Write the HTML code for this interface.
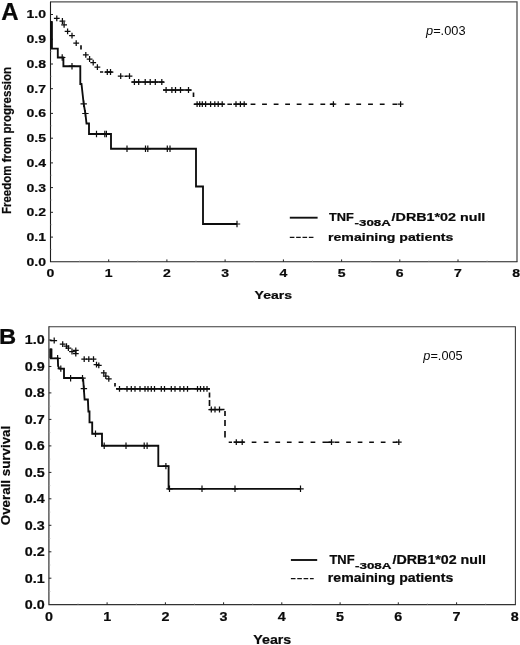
<!DOCTYPE html>
<html><head><meta charset="utf-8"><title>Figure</title>
<style>
html,body{margin:0;padding:0;background:#fff;}
body{width:520px;height:645px;overflow:hidden;}
svg{display:block;filter:grayscale(1) blur(0.35px);}
text{font-family:"Liberation Sans",Arial,Helvetica,sans-serif;fill:#0a0a0a;}
.b{font-weight:bold;stroke:#0a0a0a;stroke-width:0.22px;}
.i{font-style:italic;}
</style></head><body>
<svg width="520" height="645" viewBox="0 0 520 645">
<rect width="520" height="645" fill="#fff"/>

<path d="M50.5 1.95H517.0V261.8" stroke="#505050" stroke-width="1.3" fill="none"/>
<path d="M50.5 1.45V261.8H517.5" stroke="#1e1e1e" stroke-width="1.1" fill="none"/>
<text class="b" transform="translate(46.00 265.70) scale(1.190 1)" font-size="11.8" text-anchor="end">0.0</text>
<path d="M50.5 237.1h2.5" stroke="#222" stroke-width="1"/>
<text class="b" transform="translate(46.00 240.97) scale(1.190 1)" font-size="11.8" text-anchor="end">0.1</text>
<path d="M50.5 212.3h2.5" stroke="#222" stroke-width="1"/>
<text class="b" transform="translate(46.00 216.24) scale(1.190 1)" font-size="11.8" text-anchor="end">0.2</text>
<path d="M50.5 187.6h2.5" stroke="#222" stroke-width="1"/>
<text class="b" transform="translate(46.00 191.51) scale(1.190 1)" font-size="11.8" text-anchor="end">0.3</text>
<path d="M50.5 162.9h2.5" stroke="#222" stroke-width="1"/>
<text class="b" transform="translate(46.00 166.78) scale(1.190 1)" font-size="11.8" text-anchor="end">0.4</text>
<path d="M50.5 138.2h2.5" stroke="#222" stroke-width="1"/>
<text class="b" transform="translate(46.00 142.05) scale(1.190 1)" font-size="11.8" text-anchor="end">0.5</text>
<path d="M50.5 113.4h2.5" stroke="#222" stroke-width="1"/>
<text class="b" transform="translate(46.00 117.32) scale(1.190 1)" font-size="11.8" text-anchor="end">0.6</text>
<path d="M50.5 88.7h2.5" stroke="#222" stroke-width="1"/>
<text class="b" transform="translate(46.00 92.59) scale(1.190 1)" font-size="11.8" text-anchor="end">0.7</text>
<path d="M50.5 64.0h2.5" stroke="#222" stroke-width="1"/>
<text class="b" transform="translate(46.00 67.86) scale(1.190 1)" font-size="11.8" text-anchor="end">0.8</text>
<path d="M50.5 39.2h2.5" stroke="#222" stroke-width="1"/>
<text class="b" transform="translate(46.00 43.13) scale(1.190 1)" font-size="11.8" text-anchor="end">0.9</text>
<path d="M50.5 14.5h2.5" stroke="#222" stroke-width="1"/>
<text class="b" transform="translate(46.00 18.40) scale(1.190 1)" font-size="11.8" text-anchor="end">1.0</text>
<path d="M50.5 249.4h1.6" stroke="#aaa" stroke-width="0.6"/>
<path d="M50.5 224.7h1.6" stroke="#aaa" stroke-width="0.6"/>
<path d="M50.5 200.0h1.6" stroke="#aaa" stroke-width="0.6"/>
<path d="M50.5 175.2h1.6" stroke="#aaa" stroke-width="0.6"/>
<path d="M50.5 150.5h1.6" stroke="#aaa" stroke-width="0.6"/>
<path d="M50.5 125.8h1.6" stroke="#aaa" stroke-width="0.6"/>
<path d="M50.5 101.1h1.6" stroke="#aaa" stroke-width="0.6"/>
<path d="M50.5 76.3h1.6" stroke="#aaa" stroke-width="0.6"/>
<path d="M50.5 51.6h1.6" stroke="#aaa" stroke-width="0.6"/>
<path d="M50.5 26.9h1.6" stroke="#aaa" stroke-width="0.6"/>
<text class="b" transform="translate(50.50 276.50) scale(1.190 1)" font-size="11.8" text-anchor="middle">0</text>
<path d="M108.7 261.8v-2.4" stroke="#222" stroke-width="1"/>
<text class="b" transform="translate(108.71 276.50) scale(1.190 1)" font-size="11.8" text-anchor="middle">1</text>
<path d="M166.9 261.8v-2.4" stroke="#222" stroke-width="1"/>
<text class="b" transform="translate(166.93 276.50) scale(1.190 1)" font-size="11.8" text-anchor="middle">2</text>
<path d="M225.1 261.8v-2.4" stroke="#222" stroke-width="1"/>
<text class="b" transform="translate(225.14 276.50) scale(1.190 1)" font-size="11.8" text-anchor="middle">3</text>
<path d="M283.4 261.8v-2.4" stroke="#222" stroke-width="1"/>
<text class="b" transform="translate(283.35 276.50) scale(1.190 1)" font-size="11.8" text-anchor="middle">4</text>
<path d="M341.6 261.8v-2.4" stroke="#222" stroke-width="1"/>
<text class="b" transform="translate(341.56 276.50) scale(1.190 1)" font-size="11.8" text-anchor="middle">5</text>
<path d="M399.8 261.8v-2.4" stroke="#222" stroke-width="1"/>
<text class="b" transform="translate(399.78 276.50) scale(1.190 1)" font-size="11.8" text-anchor="middle">6</text>
<path d="M458.0 261.8v-2.4" stroke="#222" stroke-width="1"/>
<text class="b" transform="translate(457.99 276.50) scale(1.190 1)" font-size="11.8" text-anchor="middle">7</text>
<text class="b" transform="translate(516.20 276.50) scale(1.190 1)" font-size="11.8" text-anchor="middle">8</text>
<path d="M79.6 261.8v-1.4" stroke="#aaa" stroke-width="0.6"/>
<path d="M137.8 261.8v-1.4" stroke="#aaa" stroke-width="0.6"/>
<path d="M196.0 261.8v-1.4" stroke="#aaa" stroke-width="0.6"/>
<path d="M254.2 261.8v-1.4" stroke="#aaa" stroke-width="0.6"/>
<path d="M312.5 261.8v-1.4" stroke="#aaa" stroke-width="0.6"/>
<path d="M370.7 261.8v-1.4" stroke="#aaa" stroke-width="0.6"/>
<path d="M428.9 261.8v-1.4" stroke="#aaa" stroke-width="0.6"/>
<path d="M487.1 261.8v-1.4" stroke="#aaa" stroke-width="0.6"/>
<text class="b" transform="translate(254.60 298.50) scale(1.190 1)" font-size="11.8" text-anchor="start">Years</text>
<text class="b" transform="translate(10.50 140.50) rotate(-90) scale(0.944 1)" font-size="12.2" text-anchor="middle">Freedom from progression</text>
<text class="b" transform="translate(1.20 19.70)" font-size="24" text-anchor="start">A</text>
<text class="" transform="translate(426.00 35.40) scale(1.070 1)" font-size="12" text-anchor="start"><tspan class="i">p</tspan>=.003</text>
<path d="M289.8 217.7H317.6" stroke="#111" stroke-width="1.9"/>
<text class="b" transform="translate(328.90 220.90) scale(1.100 1)" font-size="11.6" text-anchor="start">TNF</text>
<text class="b" transform="translate(354.60 226.00) scale(1.585 1)" font-size="8.4" text-anchor="start">-308A</text>
<text class="b" transform="translate(391.60 220.90) scale(1.233 1)" font-size="11.6" text-anchor="start">/DRB1*02 null</text>
<path d="M289.8 237.3H313.6" stroke="#111" stroke-width="1.3" stroke-dasharray="4.6 1.75"/>
<text class="b" transform="translate(328.00 240.60) scale(1.218 1)" font-size="11.6" text-anchor="start">remaining patients</text>
<path d="M81 45.3L81 49.6M100 72L103.2 72M105 72L112.5 72M124.5 76.2L127 76.2M131.5 82L164 82M163 90L191.5 90M193.5 92.4L193.5 96.9M193.7 104.2L224.5 104.2M227.4 104.2L232 104.2M234 104.2L247 104.2" stroke="#0d0d0d" stroke-width="1.65" fill="none"/>
<path d="M250.6 104.2L255.4 104.2M262.1 104.2L266.90000000000003 104.2M273.7 104.2L278.5 104.2M285.2 104.2L290.0 104.2M296.7 104.2L301.5 104.2M308.6 104.2L313.40000000000003 104.2M320.4 104.2L325.2 104.2M329.8 104.2L334.6 104.2M344.9 104.2L349.7 104.2M356.3 104.2L361.1 104.2M368.1 104.2L372.90000000000003 104.2M379.8 104.2L384.6 104.2M392.5 104.2L397.3 104.2" stroke="#0d0d0d" stroke-width="1.65" fill="none"/>
<path d="M53.9 18.3H59.7M56.8 15.4V21.2" stroke="#0d0d0d" stroke-width="1.25" fill="none"/>
<path d="M59.5 21.0H65.3M62.4 18.1V23.9" stroke="#0d0d0d" stroke-width="1.25" fill="none"/>
<path d="M61.2 24.8H67.0M64.1 21.9V27.7" stroke="#0d0d0d" stroke-width="1.25" fill="none"/>
<path d="M64.7 31.3H70.5M67.6 28.4V34.2" stroke="#0d0d0d" stroke-width="1.25" fill="none"/>
<path d="M69.1 35.7H74.9M72.0 32.8V38.6" stroke="#0d0d0d" stroke-width="1.25" fill="none"/>
<path d="M73.3 43.2H79.1M76.2 40.3V46.1" stroke="#0d0d0d" stroke-width="1.25" fill="none"/>
<path d="M82.9 54.9H88.7M85.8 52.0V57.8" stroke="#0d0d0d" stroke-width="1.25" fill="none"/>
<path d="M86.7 59.0H92.5M89.6 56.1V61.9" stroke="#0d0d0d" stroke-width="1.25" fill="none"/>
<path d="M90.3 62.6H96.1M93.2 59.7V65.5" stroke="#0d0d0d" stroke-width="1.25" fill="none"/>
<path d="M94.5 67.2H100.3M97.4 64.3V70.1" stroke="#0d0d0d" stroke-width="1.25" fill="none"/>
<path d="M104.4 72.0H110.2M107.3 69.1V74.9" stroke="#0d0d0d" stroke-width="1.25" fill="none"/>
<path d="M107.6 72.0H113.4M110.5 69.1V74.9" stroke="#0d0d0d" stroke-width="1.25" fill="none"/>
<path d="M117.8 76.2H123.6M120.7 73.3V79.1" stroke="#0d0d0d" stroke-width="1.25" fill="none"/>
<path d="M126.6 76.2H132.4M129.5 73.3V79.1" stroke="#0d0d0d" stroke-width="1.25" fill="none"/>
<path d="M131.5 82.0H137.3M134.4 79.1V84.9" stroke="#0d0d0d" stroke-width="1.25" fill="none"/>
<path d="M135.8 82.0H141.6M138.7 79.1V84.9" stroke="#0d0d0d" stroke-width="1.25" fill="none"/>
<path d="M142.3 82.0H148.1M145.2 79.1V84.9" stroke="#0d0d0d" stroke-width="1.25" fill="none"/>
<path d="M147.3 82.0H153.1M150.2 79.1V84.9" stroke="#0d0d0d" stroke-width="1.25" fill="none"/>
<path d="M152.4 82.0H158.2M155.3 79.1V84.9" stroke="#0d0d0d" stroke-width="1.25" fill="none"/>
<path d="M158.9 82.0H164.7M161.8 79.1V84.9" stroke="#0d0d0d" stroke-width="1.25" fill="none"/>
<path d="M163.2 90.0H169.0M166.1 87.1V92.9" stroke="#0d0d0d" stroke-width="1.25" fill="none"/>
<path d="M169.0 90.0H174.8M171.9 87.1V92.9" stroke="#0d0d0d" stroke-width="1.25" fill="none"/>
<path d="M172.6 90.0H178.4M175.5 87.1V92.9" stroke="#0d0d0d" stroke-width="1.25" fill="none"/>
<path d="M177.6 90.0H183.4M180.5 87.1V92.9" stroke="#0d0d0d" stroke-width="1.25" fill="none"/>
<path d="M185.6 90.0H191.4M188.5 87.1V92.9" stroke="#0d0d0d" stroke-width="1.25" fill="none"/>
<path d="M194.2 104.2H200.0M197.1 101.3V107.1" stroke="#0d0d0d" stroke-width="1.25" fill="none"/>
<path d="M196.8 104.2H202.6M199.7 101.3V107.1" stroke="#0d0d0d" stroke-width="1.25" fill="none"/>
<path d="M199.4 104.2H205.2M202.3 101.3V107.1" stroke="#0d0d0d" stroke-width="1.25" fill="none"/>
<path d="M202.7 104.2H208.5M205.6 101.3V107.1" stroke="#0d0d0d" stroke-width="1.25" fill="none"/>
<path d="M207.7 104.2H213.5M210.6 101.3V107.1" stroke="#0d0d0d" stroke-width="1.25" fill="none"/>
<path d="M211.9 104.2H217.7M214.8 101.3V107.1" stroke="#0d0d0d" stroke-width="1.25" fill="none"/>
<path d="M215.3 104.2H221.1M218.2 101.3V107.1" stroke="#0d0d0d" stroke-width="1.25" fill="none"/>
<path d="M219.3 104.2H225.1M222.2 101.3V107.1" stroke="#0d0d0d" stroke-width="1.25" fill="none"/>
<path d="M233.1 104.2H238.9M236.0 101.3V107.1" stroke="#0d0d0d" stroke-width="1.25" fill="none"/>
<path d="M237.5 104.2H243.3M240.4 101.3V107.1" stroke="#0d0d0d" stroke-width="1.25" fill="none"/>
<path d="M241.3 104.2H247.1M244.2 101.3V107.1" stroke="#0d0d0d" stroke-width="1.25" fill="none"/>
<path d="M330.5 104.2H336.3M333.4 101.3V107.1" stroke="#0d0d0d" stroke-width="1.25" fill="none"/>
<path d="M397.7 104.2H403.5M400.6 101.3V107.1" stroke="#0d0d0d" stroke-width="1.25" fill="none"/>
<path d="M51.4 21L51.4 48.6" stroke="#0d0d0d" stroke-width="2.6" fill="none"/>
<path d="M51.6 22 L51.6 48.6 L57.8 48.6 L57.8 57.5 L63.4 57.5 L63.4 66.2 L80.3 66.2 L80.3 84 L81.5 84 L82.6 94 L83.7 103.8 L85.4 113.5 L86.5 123.5 L89 123.5 L89 134 L111 134 L111 148.7 L196 148.7 L196 186.5 L203 186.5 L203 224 L237 224" stroke="#0d0d0d" stroke-width="1.85" fill="none"/>
<path d="M59.0 57.5H65.4M62.2 54.3V60.7" stroke="#0d0d0d" stroke-width="1.2" fill="none"/>
<path d="M68.8 66.2H75.2M72.0 63.0V69.4" stroke="#0d0d0d" stroke-width="1.2" fill="none"/>
<path d="M80.5 103.8H86.9M83.7 100.6V107.0" stroke="#0d0d0d" stroke-width="1.2" fill="none"/>
<path d="M82.2 113.5H88.6M85.4 110.3V116.7" stroke="#0d0d0d" stroke-width="1.2" fill="none"/>
<path d="M93.3 134.0H99.7M96.5 130.8V137.2" stroke="#0d0d0d" stroke-width="1.2" fill="none"/>
<path d="M101.6 134.0H108.0M104.8 130.8V137.2" stroke="#0d0d0d" stroke-width="1.2" fill="none"/>
<path d="M103.2 134.0H109.6M106.4 130.8V137.2" stroke="#0d0d0d" stroke-width="1.2" fill="none"/>
<path d="M123.8 148.7H130.2M127.0 145.5V151.9" stroke="#0d0d0d" stroke-width="1.2" fill="none"/>
<path d="M142.3 148.7H148.7M145.5 145.5V151.9" stroke="#0d0d0d" stroke-width="1.2" fill="none"/>
<path d="M144.6 148.7H151.0M147.8 145.5V151.9" stroke="#0d0d0d" stroke-width="1.2" fill="none"/>
<path d="M164.1 148.7H170.5M167.3 145.5V151.9" stroke="#0d0d0d" stroke-width="1.2" fill="none"/>
<path d="M166.8 148.7H173.2M170.0 145.5V151.9" stroke="#0d0d0d" stroke-width="1.2" fill="none"/>
<path d="M233.8 224.0H240.2M237.0 220.8V227.2" stroke="#0d0d0d" stroke-width="1.2" fill="none"/>
<path d="M48.9 326.8H515.4V604.7" stroke="#3a3a3a" stroke-width="1.1" fill="none"/>
<path d="M48.9 326.3V604.7H515.9" stroke="#333" stroke-width="1.2" fill="none"/>
<text class="b" transform="translate(44.80 609.10) scale(1.120 1)" font-size="12.8" text-anchor="end">0.0</text>
<path d="M48.9 578.2h2.5" stroke="#222" stroke-width="1"/>
<text class="b" transform="translate(44.80 582.63) scale(1.120 1)" font-size="12.8" text-anchor="end">0.1</text>
<path d="M48.9 551.8h2.5" stroke="#222" stroke-width="1"/>
<text class="b" transform="translate(44.80 556.16) scale(1.120 1)" font-size="12.8" text-anchor="end">0.2</text>
<path d="M48.9 525.3h2.5" stroke="#222" stroke-width="1"/>
<text class="b" transform="translate(44.80 529.69) scale(1.120 1)" font-size="12.8" text-anchor="end">0.3</text>
<path d="M48.9 498.8h2.5" stroke="#222" stroke-width="1"/>
<text class="b" transform="translate(44.80 503.22) scale(1.120 1)" font-size="12.8" text-anchor="end">0.4</text>
<path d="M48.9 472.4h2.5" stroke="#222" stroke-width="1"/>
<text class="b" transform="translate(44.80 476.75) scale(1.120 1)" font-size="12.8" text-anchor="end">0.5</text>
<path d="M48.9 445.9h2.5" stroke="#222" stroke-width="1"/>
<text class="b" transform="translate(44.80 450.28) scale(1.120 1)" font-size="12.8" text-anchor="end">0.6</text>
<path d="M48.9 419.4h2.5" stroke="#222" stroke-width="1"/>
<text class="b" transform="translate(44.80 423.81) scale(1.120 1)" font-size="12.8" text-anchor="end">0.7</text>
<path d="M48.9 392.9h2.5" stroke="#222" stroke-width="1"/>
<text class="b" transform="translate(44.80 397.34) scale(1.120 1)" font-size="12.8" text-anchor="end">0.8</text>
<path d="M48.9 366.5h2.5" stroke="#222" stroke-width="1"/>
<text class="b" transform="translate(44.80 370.87) scale(1.120 1)" font-size="12.8" text-anchor="end">0.9</text>
<path d="M48.9 340.0h2.5" stroke="#222" stroke-width="1"/>
<text class="b" transform="translate(44.80 344.40) scale(1.120 1)" font-size="12.8" text-anchor="end">1.0</text>
<path d="M48.9 591.5h1.6" stroke="#aaa" stroke-width="0.6"/>
<path d="M48.9 565.0h1.6" stroke="#aaa" stroke-width="0.6"/>
<path d="M48.9 538.5h1.6" stroke="#aaa" stroke-width="0.6"/>
<path d="M48.9 512.1h1.6" stroke="#aaa" stroke-width="0.6"/>
<path d="M48.9 485.6h1.6" stroke="#aaa" stroke-width="0.6"/>
<path d="M48.9 459.1h1.6" stroke="#aaa" stroke-width="0.6"/>
<path d="M48.9 432.6h1.6" stroke="#aaa" stroke-width="0.6"/>
<path d="M48.9 406.2h1.6" stroke="#aaa" stroke-width="0.6"/>
<path d="M48.9 379.7h1.6" stroke="#aaa" stroke-width="0.6"/>
<path d="M48.9 353.2h1.6" stroke="#aaa" stroke-width="0.6"/>
<text class="b" transform="translate(48.90 621.30) scale(1.120 1)" font-size="12.8" text-anchor="middle">0</text>
<path d="M107.1 604.7v-2.4" stroke="#222" stroke-width="1"/>
<text class="b" transform="translate(107.14 621.30) scale(1.120 1)" font-size="12.8" text-anchor="middle">1</text>
<path d="M165.4 604.7v-2.4" stroke="#222" stroke-width="1"/>
<text class="b" transform="translate(165.38 621.30) scale(1.120 1)" font-size="12.8" text-anchor="middle">2</text>
<path d="M223.6 604.7v-2.4" stroke="#222" stroke-width="1"/>
<text class="b" transform="translate(223.61 621.30) scale(1.120 1)" font-size="12.8" text-anchor="middle">3</text>
<path d="M281.8 604.7v-2.4" stroke="#222" stroke-width="1"/>
<text class="b" transform="translate(281.85 621.30) scale(1.120 1)" font-size="12.8" text-anchor="middle">4</text>
<path d="M340.1 604.7v-2.4" stroke="#222" stroke-width="1"/>
<text class="b" transform="translate(340.09 621.30) scale(1.120 1)" font-size="12.8" text-anchor="middle">5</text>
<path d="M398.3 604.7v-2.4" stroke="#222" stroke-width="1"/>
<text class="b" transform="translate(398.32 621.30) scale(1.120 1)" font-size="12.8" text-anchor="middle">6</text>
<path d="M456.6 604.7v-2.4" stroke="#222" stroke-width="1"/>
<text class="b" transform="translate(456.56 621.30) scale(1.120 1)" font-size="12.8" text-anchor="middle">7</text>
<text class="b" transform="translate(514.80 621.30) scale(1.120 1)" font-size="12.8" text-anchor="middle">8</text>
<path d="M78.0 604.7v-1.4" stroke="#aaa" stroke-width="0.6"/>
<path d="M136.3 604.7v-1.4" stroke="#aaa" stroke-width="0.6"/>
<path d="M194.5 604.7v-1.4" stroke="#aaa" stroke-width="0.6"/>
<path d="M252.7 604.7v-1.4" stroke="#aaa" stroke-width="0.6"/>
<path d="M311.0 604.7v-1.4" stroke="#aaa" stroke-width="0.6"/>
<path d="M369.2 604.7v-1.4" stroke="#aaa" stroke-width="0.6"/>
<path d="M427.4 604.7v-1.4" stroke="#aaa" stroke-width="0.6"/>
<path d="M485.7 604.7v-1.4" stroke="#aaa" stroke-width="0.6"/>
<text class="b" transform="translate(253.30 643.80) scale(1.130 1)" font-size="12.6" text-anchor="start">Years</text>
<text class="b" transform="translate(10.20 475.50) rotate(-90) scale(1.086 1)" font-size="12.3" text-anchor="middle">Overall survival</text>
<text class="b" transform="translate(-1.00 343.80) scale(1.080 1)" font-size="22" text-anchor="start">B</text>
<text class="" transform="translate(423.30 360.20) scale(1.030 1)" font-size="12.4" text-anchor="start"><tspan class="i">p</tspan>=.005</text>
<path d="M290.9 560H317.2" stroke="#111" stroke-width="1.9"/>
<text class="b" transform="translate(329.40 563.50) scale(1.080 1)" font-size="12" text-anchor="start">TNF</text>
<text class="b" transform="translate(355.00 568.90) scale(1.560 1)" font-size="8.6" text-anchor="start">-308A</text>
<text class="b" transform="translate(392.60 563.50) scale(1.187 1)" font-size="12" text-anchor="start">/DRB1*02 null</text>
<path d="M290.9 578.7H313.7" stroke="#111" stroke-width="1.3" stroke-dasharray="4.6 1.75"/>
<text class="b" transform="translate(327.80 581.60) scale(1.177 1)" font-size="12" text-anchor="start">remaining patients</text>
<path d="M50 340.5L52.5 340.5M115 383L115 386.6M116 388.8L210 388.8M209.5 392.5L209.5 397.5M209.5 400L209.5 406M209.5 409.5L224.5 409.5M225 411L225 416M225 420L225 426M225 431L225 437.5M228.7 442.2L232 442.2M234 442.2L244.5 442.2" stroke="#0d0d0d" stroke-width="1.65" fill="none"/>
<path d="M251.7 442.2L256.4 442.2M263.8 442.2L268.5 442.2M275.4 442.2L280.09999999999997 442.2M286.9 442.2L291.59999999999997 442.2M298.6 442.2L303.3 442.2M310.6 442.2L315.3 442.2M322.5 442.2L327.2 442.2M327 442.2L331.7 442.2M334.6 442.2L339.3 442.2M346.2 442.2L350.9 442.2M357.7 442.2L362.4 442.2M369.2 442.2L373.9 442.2M380.8 442.2L385.5 442.2M392.6 442.2L397.3 442.2" stroke="#0d0d0d" stroke-width="1.65" fill="none"/>
<path d="M51.3 340.5H57.1M54.2 337.6V343.4" stroke="#0d0d0d" stroke-width="1.25" fill="none"/>
<path d="M59.8 344.2H65.6M62.7 341.3V347.1" stroke="#0d0d0d" stroke-width="1.25" fill="none"/>
<path d="M63.6 346.2H69.4M66.5 343.3V349.1" stroke="#0d0d0d" stroke-width="1.25" fill="none"/>
<path d="M65.5 348.2H71.3M68.4 345.3V351.1" stroke="#0d0d0d" stroke-width="1.25" fill="none"/>
<path d="M69.1 351.5H74.9M72.0 348.6V354.4" stroke="#0d0d0d" stroke-width="1.25" fill="none"/>
<path d="M72.9 350.3H78.7M75.8 347.4V353.2" stroke="#0d0d0d" stroke-width="1.25" fill="none"/>
<path d="M72.9 353.6H78.7M75.8 350.7V356.5" stroke="#0d0d0d" stroke-width="1.25" fill="none"/>
<path d="M81.3 359.2H87.1M84.2 356.3V362.1" stroke="#0d0d0d" stroke-width="1.25" fill="none"/>
<path d="M85.9 359.2H91.7M88.8 356.3V362.1" stroke="#0d0d0d" stroke-width="1.25" fill="none"/>
<path d="M90.6 359.2H96.4M93.5 356.3V362.1" stroke="#0d0d0d" stroke-width="1.25" fill="none"/>
<path d="M93.6 364.6H99.4M96.5 361.7V367.5" stroke="#0d0d0d" stroke-width="1.25" fill="none"/>
<path d="M95.9 365.4H101.7M98.8 362.5V368.3" stroke="#0d0d0d" stroke-width="1.25" fill="none"/>
<path d="M100.9 372.8H106.7M103.8 369.9V375.7" stroke="#0d0d0d" stroke-width="1.25" fill="none"/>
<path d="M102.9 376.2H108.7M105.8 373.3V379.1" stroke="#0d0d0d" stroke-width="1.25" fill="none"/>
<path d="M105.9 378.9H111.7M108.8 376.0V381.8" stroke="#0d0d0d" stroke-width="1.25" fill="none"/>
<path d="M116.6 388.8H122.4M119.5 385.9V391.7" stroke="#0d0d0d" stroke-width="1.25" fill="none"/>
<path d="M124.1 388.8H129.9M127.0 385.9V391.7" stroke="#0d0d0d" stroke-width="1.25" fill="none"/>
<path d="M128.4 388.8H134.2M131.3 385.9V391.7" stroke="#0d0d0d" stroke-width="1.25" fill="none"/>
<path d="M132.1 388.8H137.9M135.0 385.9V391.7" stroke="#0d0d0d" stroke-width="1.25" fill="none"/>
<path d="M137.1 388.8H142.9M140.0 385.9V391.7" stroke="#0d0d0d" stroke-width="1.25" fill="none"/>
<path d="M142.1 388.8H147.9M145.0 385.9V391.7" stroke="#0d0d0d" stroke-width="1.25" fill="none"/>
<path d="M145.1 388.8H150.9M148.0 385.9V391.7" stroke="#0d0d0d" stroke-width="1.25" fill="none"/>
<path d="M148.4 388.8H154.2M151.3 385.9V391.7" stroke="#0d0d0d" stroke-width="1.25" fill="none"/>
<path d="M151.6 388.8H157.4M154.5 385.9V391.7" stroke="#0d0d0d" stroke-width="1.25" fill="none"/>
<path d="M158.4 388.8H164.2M161.3 385.9V391.7" stroke="#0d0d0d" stroke-width="1.25" fill="none"/>
<path d="M161.6 388.8H167.4M164.5 385.9V391.7" stroke="#0d0d0d" stroke-width="1.25" fill="none"/>
<path d="M168.4 388.8H174.2M171.3 385.9V391.7" stroke="#0d0d0d" stroke-width="1.25" fill="none"/>
<path d="M172.1 388.8H177.9M175.0 385.9V391.7" stroke="#0d0d0d" stroke-width="1.25" fill="none"/>
<path d="M177.1 388.8H182.9M180.0 385.9V391.7" stroke="#0d0d0d" stroke-width="1.25" fill="none"/>
<path d="M180.9 388.8H186.7M183.8 385.9V391.7" stroke="#0d0d0d" stroke-width="1.25" fill="none"/>
<path d="M184.6 388.8H190.4M187.5 385.9V391.7" stroke="#0d0d0d" stroke-width="1.25" fill="none"/>
<path d="M194.6 388.8H200.4M197.5 385.9V391.7" stroke="#0d0d0d" stroke-width="1.25" fill="none"/>
<path d="M197.6 388.8H203.4M200.5 385.9V391.7" stroke="#0d0d0d" stroke-width="1.25" fill="none"/>
<path d="M200.9 388.8H206.7M203.8 385.9V391.7" stroke="#0d0d0d" stroke-width="1.25" fill="none"/>
<path d="M204.1 388.8H209.9M207.0 385.9V391.7" stroke="#0d0d0d" stroke-width="1.25" fill="none"/>
<path d="M208.4 409.5H214.2M211.3 406.6V412.4" stroke="#0d0d0d" stroke-width="1.25" fill="none"/>
<path d="M212.1 409.5H217.9M215.0 406.6V412.4" stroke="#0d0d0d" stroke-width="1.25" fill="none"/>
<path d="M216.6 409.5H222.4M219.5 406.6V412.4" stroke="#0d0d0d" stroke-width="1.25" fill="none"/>
<path d="M233.4 442.2H239.2M236.3 439.3V445.1" stroke="#0d0d0d" stroke-width="1.25" fill="none"/>
<path d="M239.3 442.2H245.1M242.2 439.3V445.1" stroke="#0d0d0d" stroke-width="1.25" fill="none"/>
<path d="M328.6 442.2H334.4M331.5 439.3V445.1" stroke="#0d0d0d" stroke-width="1.25" fill="none"/>
<path d="M395.9 442.2H401.7M398.8 439.3V445.1" stroke="#0d0d0d" stroke-width="1.25" fill="none"/>
<path d="M50.9 348.6L50.9 358.3" stroke="#0d0d0d" stroke-width="3.0" fill="none"/>
<path d="M50.9 348.6 L50.9 358.3 L57.8 358.3 L58.1 366 L59.3 368.6 L64 368.6 L64 378 L82.6 378 L83.2 380 L84.6 399.5 L87.9 399.5 L88.4 411.5 L89.5 411.5 L89.5 422.3 L92.2 422.3 L92.2 433.7 L102 433.7 L102 445.7 L158.3 445.7 L158.3 466.1 L168.6 466.1 L168.6 488.8 L300.5 488.8" stroke="#0d0d0d" stroke-width="1.85" fill="none"/>
<path d="M54.4 358.3H60.8M57.6 355.1V361.5" stroke="#0d0d0d" stroke-width="1.2" fill="none"/>
<path d="M57.6 368.6H64.0M60.8 365.4V371.8" stroke="#0d0d0d" stroke-width="1.2" fill="none"/>
<path d="M67.4 378.2H73.8M70.6 375.0V381.4" stroke="#0d0d0d" stroke-width="1.2" fill="none"/>
<path d="M79.3 378.2H85.7M82.5 375.0V381.4" stroke="#0d0d0d" stroke-width="1.2" fill="none"/>
<path d="M80.7 388.7H87.1M83.9 385.5V391.9" stroke="#0d0d0d" stroke-width="1.2" fill="none"/>
<path d="M92.3 433.7H98.7M95.5 430.5V436.9" stroke="#0d0d0d" stroke-width="1.2" fill="none"/>
<path d="M101.0 445.7H107.4M104.2 442.5V448.9" stroke="#0d0d0d" stroke-width="1.2" fill="none"/>
<path d="M122.8 445.7H129.2M126.0 442.5V448.9" stroke="#0d0d0d" stroke-width="1.2" fill="none"/>
<path d="M141.0 445.7H147.4M144.2 442.5V448.9" stroke="#0d0d0d" stroke-width="1.2" fill="none"/>
<path d="M143.9 445.7H150.3M147.1 442.5V448.9" stroke="#0d0d0d" stroke-width="1.2" fill="none"/>
<path d="M162.7 466.1H169.1M165.9 462.9V469.3" stroke="#0d0d0d" stroke-width="1.2" fill="none"/>
<path d="M166.3 488.8H172.7M169.5 485.6V492.0" stroke="#0d0d0d" stroke-width="1.2" fill="none"/>
<path d="M198.8 488.8H205.2M202.0 485.6V492.0" stroke="#0d0d0d" stroke-width="1.2" fill="none"/>
<path d="M231.8 488.8H238.2M235.0 485.6V492.0" stroke="#0d0d0d" stroke-width="1.2" fill="none"/>
<path d="M297.3 488.8H303.7M300.5 485.6V492.0" stroke="#0d0d0d" stroke-width="1.2" fill="none"/>
</svg></body></html>
